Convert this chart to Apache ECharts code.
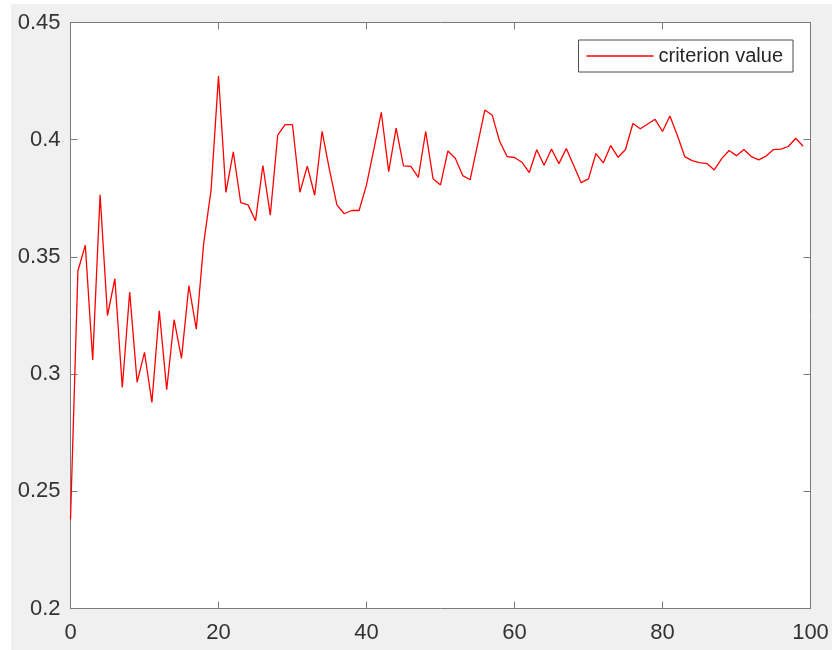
<!DOCTYPE html>
<html>
<head>
<meta charset="utf-8">
<title>criterion value</title>
<script src="https://cdn.jsdelivr.net/npm/echarts@6/dist/echarts.min.js"></script>
<style>
  html, body { margin: 0; padding: 0; background: #ffffff; }
  #wrap { position: relative; width: 832px; height: 650px; background: #ffffff; }
  #figbg { position: absolute; left: 11px; top: 4px; right: 0; bottom: 0; background: #f0f0f0; }
  #chart { position: absolute; left: 0; top: 0; width: 832px; height: 650px; }
</style>
</head>
<body>
<div id="wrap">
  <div id="figbg"></div>
  <div id="chart"></div>
</div>
<script>
// Criterion value recorded at each iteration (iterations 0..99)
const criterionValues = [
  0.238, 0.344, 0.355, 0.306, 0.3765, 0.325, 0.3407, 0.2943, 0.335, 0.2965,
  0.3093, 0.2879, 0.327, 0.2933, 0.3232, 0.3067, 0.3378, 0.3192, 0.3559, 0.3786,
  0.4272, 0.3775, 0.3948, 0.3732, 0.3722, 0.3654, 0.389, 0.3678, 0.4019, 0.4064,
  0.4064, 0.3776, 0.3887, 0.3763, 0.4036, 0.3871, 0.3722, 0.3684, 0.3698, 0.3698,
  0.3807, 0.396, 0.4117, 0.3864, 0.4049, 0.3888, 0.3886, 0.3839, 0.4035, 0.3833,
  0.3807, 0.3952, 0.3921, 0.3847, 0.3829, 0.3978, 0.4127, 0.4104, 0.3992, 0.3928,
  0.3924, 0.3904, 0.386, 0.3957, 0.3891, 0.396, 0.3898, 0.3962, 0.389, 0.3817,
  0.3833, 0.3941, 0.3901, 0.3975, 0.3925, 0.3958, 0.4069, 0.4047, 0.4067, 0.4087,
  0.4035, 0.4101, 0.4019, 0.3928, 0.3911, 0.3902, 0.3898, 0.3871, 0.3919, 0.3954,
  0.3932, 0.3958, 0.3928, 0.3914, 0.393, 0.3958, 0.396, 0.3971, 0.4006, 0.3972
];
const seriesName = 'criterion value';
const xTicks = [0, 20, 40, 60, 80, 100];
const yTicks = [0.2, 0.25, 0.3, 0.35, 0.4, 0.45];

const points = criterionValues.map((v, i) => [i, v]);

const axisColor = '#7a7a7a';
const labelColor = '#333333';
const lineColor = '#ff0000';
const fontFamily = 'Liberation Sans, Arial, Helvetica, sans-serif';

function boxAxis(extra) {
  return Object.assign({
    axisLine: { show: true, onZero: false, lineStyle: { color: axisColor, width: 1 } },
    axisTick: { show: true, inside: true, length: 7, lineStyle: { color: axisColor, width: 1 } },
    splitLine: { show: false }
  }, extra);
}

const chart = echarts.init(document.getElementById('chart'), null, { renderer: 'canvas' });
chart.setOption({
  backgroundColor: 'transparent',
  animation: false,
  textStyle: { fontFamily: fontFamily },
  grid: {
    left: 70.5, top: 22.5, right: 21.5, bottom: 41.5,
    show: true, backgroundColor: '#ffffff', borderWidth: 0
  },
  legend: {
    show: true,
    data: [{ name: seriesName, icon: 'rect', itemStyle: { color: lineColor } }],
    right: 832 - 793,
    top: 40,
    orient: 'vertical',
    backgroundColor: '#ffffff',
    borderColor: '#4d4d4d',
    borderWidth: 1,
    borderRadius: 0,
    padding: [6, 10, 6, 8],
    itemWidth: 67,
    itemHeight: 1.3,
    textStyle: { fontSize: 20, color: '#262626', fontFamily: fontFamily, lineHeight: 20 }
  },
  xAxis: [
    boxAxis({
      type: 'value', position: 'bottom', min: xTicks[0], max: xTicks[xTicks.length - 1], interval: 20,
      axisLabel: { show: true, margin: 13, fontSize: 22, color: labelColor, fontFamily: fontFamily }
    }),
    boxAxis({
      type: 'value', position: 'top', min: xTicks[0], max: xTicks[xTicks.length - 1], interval: 20,
      axisLabel: { show: false }
    })
  ],
  yAxis: [
    boxAxis({
      type: 'value', position: 'left', min: yTicks[0], max: yTicks[yTicks.length - 1], interval: 0.05,
      axisLabel: { show: true, margin: 10, fontSize: 22, color: labelColor, fontFamily: fontFamily }
    }),
    boxAxis({
      type: 'value', position: 'right', min: yTicks[0], max: yTicks[yTicks.length - 1], interval: 0.05,
      axisLabel: { show: false }
    })
  ],
  series: [{
    name: seriesName,
    type: 'line',
    xAxisIndex: 0,
    yAxisIndex: 0,
    data: points,
    symbol: 'none',
    showSymbol: false,
    lineStyle: { color: lineColor, width: 1.3 },
    itemStyle: { color: lineColor }
  }]
});
</script>
</body>
</html>
